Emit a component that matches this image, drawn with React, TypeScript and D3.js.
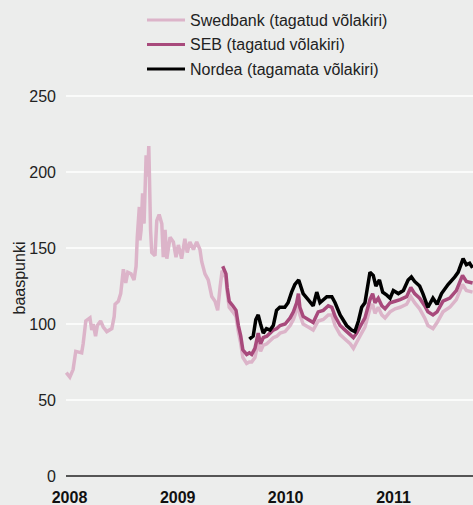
import React, { useEffect, useRef } from 'react';
import * as d3 from 'd3';

// values (basis points)
const swedbankDates = [
  '2008-01-02', '2008-01-14', '2008-01-25', '2008-02-03', '2008-02-23', '2008-02-28', '2008-03-08',
  '2008-03-22', '2008-03-28', '2008-04-02', '2008-04-10', '2008-04-16', '2008-04-27', '2008-05-06',
  '2008-05-18', '2008-06-04', '2008-06-12', '2008-06-15', '2008-06-26', '2008-07-04', '2008-07-13',
  '2008-07-21', '2008-07-28', '2008-08-08', '2008-08-18', '2008-08-25', '2008-08-29', '2008-09-05',
  '2008-09-07', '2008-09-11', '2008-09-16', '2008-09-21', '2008-09-28', '2008-10-03', '2008-10-07',
  '2008-10-09', '2008-10-13', '2008-10-17', '2008-10-28', '2008-11-03', '2008-11-11', '2008-11-20',
  '2008-11-25', '2008-12-01', '2008-12-07', '2008-12-18', '2008-12-29', '2009-01-07', '2009-01-15',
  '2009-01-26', '2009-02-06', '2009-02-14', '2009-02-23', '2009-03-07', '2009-03-18', '2009-03-29',
  '2009-04-04', '2009-04-15', '2009-04-26', '2009-05-08', '2009-05-19', '2009-05-28', '2009-06-05',
  '2009-06-12', '2009-06-16', '2009-06-25', '2009-06-29', '2009-07-06', '2009-07-18', '2009-07-29',
  '2009-08-06', '2009-08-14', '2009-08-21', '2009-09-03', '2009-09-12', '2009-09-20', '2009-10-01',
  '2009-10-12', '2009-10-20', '2009-10-29', '2009-11-10', '2009-11-21', '2009-12-02', '2009-12-14',
  '2009-12-25', '2010-01-11', '2010-01-28', '2010-02-08', '2010-02-19', '2010-02-25', '2010-03-02',
  '2010-03-13', '2010-03-30', '2010-04-16', '2010-05-03', '2010-05-20', '2010-06-06', '2010-06-18',
  '2010-06-29', '2010-07-16', '2010-08-02', '2010-08-19', '2010-08-30', '2010-09-10', '2010-09-21',
  '2010-10-08', '2010-10-25', '2010-11-03', '2010-11-11', '2010-11-22', '2010-12-04', '2010-12-15',
  '2011-01-01', '2011-01-18', '2011-02-04', '2011-02-26', '2011-03-12', '2011-03-25', '2011-04-11',
  '2011-04-28', '2011-05-09', '2011-05-26', '2011-06-09', '2011-06-29', '2011-07-22', '2011-08-13',
  '2011-09-03', '2011-09-16', '2011-10-07',
];
const swedbankValues = [
  68, 65, 70, 82, 81, 87, 102,
  104, 96, 100, 92, 99, 102, 98,
  95, 97, 105, 113, 115, 120, 136,
  127, 134, 133, 129, 138, 157, 177,
  155, 162, 186, 166, 211, 197, 217,
  199, 162, 147, 145, 168, 172, 166,
  144, 162, 143, 157, 154, 144, 152,
  143, 156, 147, 154, 149, 154, 149,
  141, 133, 129, 118, 115, 109, 124,
  135, 134, 130, 121, 111, 108, 105,
  95, 87, 78, 74, 75, 75, 78,
  88, 82, 86, 87, 89, 91, 92,
  94, 95, 99, 103, 109, 116, 106,
  100, 98, 96, 102, 103, 106, 106,
  99, 93, 90, 87, 84, 88, 92,
  98, 110, 113, 107, 111, 106, 104,
  108, 110, 111, 113, 118, 114, 110,
  104, 99, 97, 101, 108, 111, 116,
  126, 122, 121,
];

const sebDates = [
  '2009-06-14', '2009-06-25', '2009-06-29', '2009-07-06', '2009-07-18', '2009-07-29', '2009-08-06',
  '2009-08-14', '2009-08-21', '2009-09-03', '2009-09-12', '2009-09-20', '2009-10-01', '2009-10-12',
  '2009-10-20', '2009-10-29', '2009-11-10', '2009-11-21', '2009-12-02', '2009-12-14', '2009-12-25',
  '2010-01-11', '2010-01-28', '2010-02-08', '2010-02-19', '2010-02-25', '2010-03-02', '2010-03-13',
  '2010-03-30', '2010-04-16', '2010-05-03', '2010-05-20', '2010-06-06', '2010-06-18', '2010-06-29',
  '2010-07-16', '2010-08-02', '2010-08-19', '2010-08-30', '2010-09-10', '2010-09-21', '2010-10-08',
  '2010-10-25', '2010-11-03', '2010-11-11', '2010-11-22', '2010-12-04', '2010-12-15', '2011-01-01',
  '2011-01-18', '2011-02-04', '2011-02-26', '2011-03-12', '2011-03-25', '2011-04-11', '2011-04-28',
  '2011-05-09', '2011-05-26', '2011-06-09', '2011-06-29', '2011-07-22', '2011-08-13', '2011-09-03',
  '2011-09-16', '2011-10-07',
];
const sebValues = [
  138, 133, 124, 115, 112, 109, 99,
  92, 83, 80, 81, 80, 84, 94,
  87, 91, 92, 94, 96, 97, 99,
  100, 104, 108, 114, 120, 111, 105,
  103, 101, 108, 109, 112, 111, 105,
  99, 96, 93, 91, 94, 98, 104,
  116, 120, 114, 117, 112, 110, 114,
  115, 116, 118, 124, 120, 117, 112,
  108, 106, 108, 115, 117, 122, 132,
  128, 127,
];

const nordeaDates = [
  '2009-09-12', '2009-09-25', '2009-10-04', '2009-10-12', '2009-10-20', '2009-10-29', '2009-11-09',
  '2009-11-21', '2009-12-02', '2009-12-13', '2009-12-24', '2010-01-10', '2010-01-21', '2010-02-02',
  '2010-02-13', '2010-02-26', '2010-03-13', '2010-03-30', '2010-04-16', '2010-04-28', '2010-05-09',
  '2010-06-01', '2010-06-18', '2010-06-29', '2010-07-16', '2010-08-07', '2010-08-24', '2010-09-04',
  '2010-09-16', '2010-09-27', '2010-10-08', '2010-10-25', '2010-11-05', '2010-11-14', '2010-11-26',
  '2010-12-07', '2010-12-21', '2011-01-01', '2011-01-12', '2011-01-29', '2011-02-15', '2011-03-03',
  '2011-03-14', '2011-03-25', '2011-04-11', '2011-04-22', '2011-05-09', '2011-05-26', '2011-06-09',
  '2011-06-24', '2011-07-16', '2011-08-08', '2011-08-19', '2011-09-05', '2011-09-16', '2011-09-27',
  '2011-10-07',
];
const nordeaValues = [
  90, 92, 103, 106, 100, 94, 97,
  96, 99, 109, 111, 111, 114, 121,
  126, 129, 120, 116, 112, 121, 114,
  118, 118, 114, 106, 99, 96, 95,
  102, 111, 114, 134, 132, 125, 129,
  121, 119, 117, 122, 120, 122, 129,
  131, 128, 125, 120, 111, 117, 113,
  120, 126, 131, 134, 143, 139, 140,
  137,
];

const seriesNames = ['Swedbank (tagatud võlakiri)', 'SEB (tagatud võlakiri)', 'Nordea (tagamata võlakiri)'];
const seriesColors = ['#dcb4c9', '#a84a7c', '#000000'];
const yTicks = [0, 50, 100, 150, 200, 250];
const yearTicks = ['2008', '2009', '2010', '2011'];

const W = 473;
const H = 505;
const FONT = 'Liberation Sans, Arial, Helvetica, sans-serif';

export default function App() {
  const ref = useRef<SVGSVGElement>(null);

  useEffect(() => {
    const svg = d3.select(ref.current);
    svg.selectAll('*').remove();
    const parse = d3.timeParse('%Y-%m-%d');

    const x = d3.scaleTime()
      .domain([parse('2008-01-01')!, parse('2012-01-01')!])
      .range([66, 498]);
    const y = d3.scaleLinear().domain([0, 250]).range([476, 96]);

    svg.append('rect').attr('width', W).attr('height', H).attr('fill', '#ecedec');

    // gridlines
    svg.append('g')
      .selectAll('line')
      .data(yTicks.filter(d => d > 0))
      .join('line')
      .attr('x1', 66).attr('x2', W)
      .attr('y1', d => y(d)).attr('y2', d => y(d))
      .attr('stroke', '#ffffff').attr('stroke-width', 1.6);

    svg.append('g')
      .selectAll('text')
      .data(yTicks)
      .join('text')
      .attr('x', 56).attr('y', d => y(d)).attr('dy', '0.36em')
      .attr('text-anchor', 'end')
      .attr('font-family', FONT).attr('font-size', 16).attr('fill', '#222')
      .text(d => d);

    svg.append('text')
      .attr('transform', `translate(19,278) rotate(-90)`)
      .attr('dy', '0.35em')
      .attr('text-anchor', 'middle')
      .attr('font-family', FONT).attr('font-size', 16).attr('fill', '#222')
      .text('baaspunki');

    const series = [
      { dates: swedbankDates, values: swedbankValues },
      { dates: sebDates, values: sebValues },
      { dates: nordeaDates, values: nordeaValues },
    ];

    const line = d3.line<[Date, number]>()
      .x(d => x(d[0]))
      .y(d => y(d[1]));

    series.forEach((s, i) => {
      const pts: [Date, number][] = s.dates.map((d, j) => [parse(d)!, s.values[j]]);
      svg.append('path')
        .attr('d', line(pts))
        .attr('fill', 'none')
        .attr('stroke', seriesColors[i])
        .attr('stroke-width', 3.5)
        .attr('stroke-linejoin', 'miter')
        .attr('stroke-miterlimit', 2);
    });

    // zero axis
    svg.append('line')
      .attr('x1', 66).attr('x2', W)
      .attr('y1', y(0)).attr('y2', y(0))
      .attr('stroke', '#555').attr('stroke-width', 2);

    svg.append('g')
      .selectAll('text')
      .data(yearTicks)
      .join('text')
      .attr('x', d => x(parse(`${d}-01-01`)!) + 3.5)
      .attr('y', 503)
      .attr('text-anchor', 'middle')
      .attr('font-family', FONT).attr('font-size', 16).attr('font-weight', 'bold').attr('fill', '#111')
      .text(d => d);

    // legend
    const lg = svg.append('g')
      .selectAll('g')
      .data(seriesNames)
      .join('g')
      .attr('transform', (_, i) => `translate(0,${20 + i * 24.5})`);
    lg.append('line')
      .attr('x1', 147).attr('x2', 185)
      .attr('stroke', (_, i) => seriesColors[i]).attr('stroke-width', 3);
    lg.append('text')
      .attr('x', 190).attr('dy', '0.36em')
      .attr('font-family', FONT).attr('font-size', 16).attr('fill', '#222')
      .text(d => d);
  }, []);

  return (
    <svg
      ref={ref}
      width={W}
      height={H}
      style={{ position: 'absolute', left: 0, top: 0, display: 'block' }}
    />
  );
}
